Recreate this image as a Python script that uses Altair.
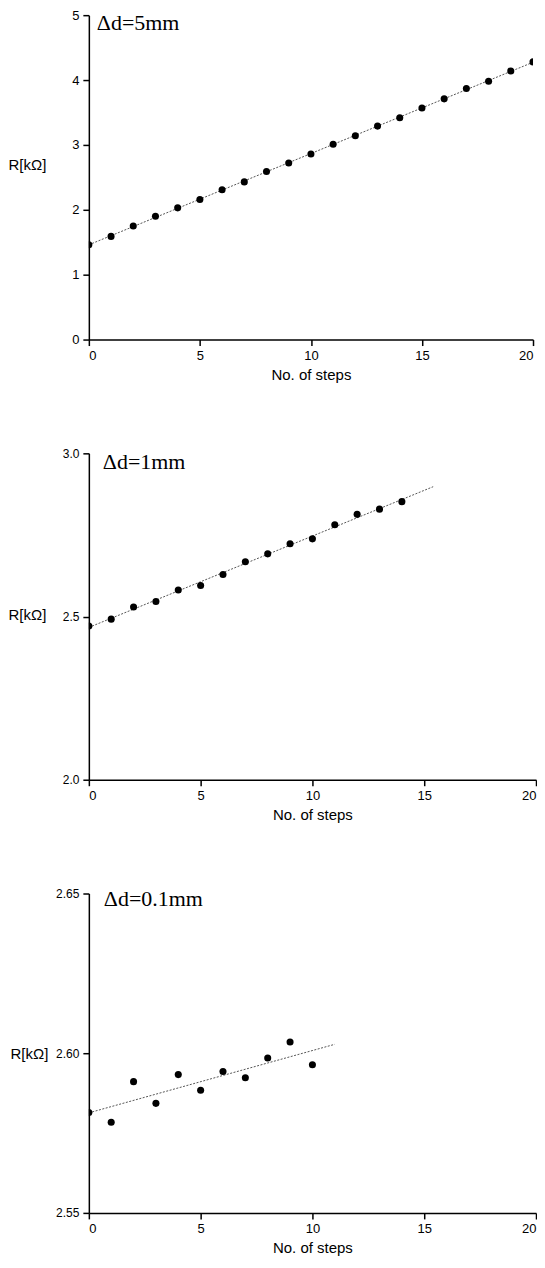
import altair as alt
import pandas as pd

# ---- data ----
steps_5mm = [0, 1, 2, 3, 4, 5, 6, 7, 8, 9, 10, 11, 12, 13, 14, 15, 16, 17, 18, 19, 20]
r_5mm = [1.46, 1.59, 1.75, 1.90, 2.03, 2.16, 2.31, 2.43, 2.59, 2.72, 2.86,
         3.01, 3.14, 3.29, 3.42, 3.57, 3.71, 3.87, 3.98, 4.14, 4.28]

steps_1mm = [0, 1, 2, 3, 4, 5, 6, 7, 8, 9, 10, 11, 12, 13, 14]
r_1mm = [2.471, 2.492, 2.529, 2.546, 2.581, 2.595, 2.629, 2.668, 2.692, 2.723,
         2.738, 2.781, 2.813, 2.829, 2.852]

steps_01mm = [0, 1, 2, 3, 4, 5, 6, 7, 8, 9, 10]
r_01mm = [2.5814, 2.5784, 2.5911, 2.5843, 2.5933, 2.5884, 2.5943, 2.5923,
          2.5985, 2.6035, 2.5964]

labels = ["Δd=5mm", "Δd=1mm", "Δd=0.1mm"]
y_domains = [[0, 5], [2.0, 3.0], [2.55, 2.65]]
y_ticks = [[0, 1, 2, 3, 4, 5], [2.0, 2.5, 3.0], [2.55, 2.60, 2.65]]
y_formats = ["d", ".1f", ".2f"]
fit_extents = [[0, 20], [0, 15.4], [0, 11.0]]
x_ticks = [0, 5, 10, 15, 20]
x_title = "No. of steps"
y_title = "R[kΩ]"


def panel(steps, values, label, dom, ticks, fmt, ext, width, height,
          title_x, title_y, text_x, text_y, ylab_size):
    df = pd.DataFrame({"step": steps, "R": values})
    x = alt.X("step:Q",
              scale=alt.Scale(domain=[0, 20], nice=False),
              axis=alt.Axis(values=x_ticks, format="d", title=x_title,
                            labelPadding=4, titlePadding=5, labelFontSize=13))
    y = alt.Y("R:Q",
              scale=alt.Scale(domain=dom, nice=False, zero=False),
              axis=alt.Axis(values=ticks, format=fmt, title=y_title,
                            titleAngle=0, titleAlign="left",
                            titleBaseline="middle", titleX=title_x,
                            titleY=title_y, labelFontSize=ylab_size,
                            labelPadding=4))
    base = alt.Chart(df)
    fit = base.transform_regression("step", "R", extent=ext).mark_line(
        color="#555555", strokeWidth=1, strokeDash=[2, 1.5], clip=True
    ).encode(x=x, y=y)
    pts = base.mark_circle(size=50, color="black", opacity=1, clip=True).encode(x=x, y=y)
    txt = alt.Chart(pd.DataFrame({"label": [label]})).mark_text(
        align="left", baseline="middle", font="Liberation Serif",
        fontSize=22, color="black"
    ).encode(x=alt.value(text_x), y=alt.value(text_y), text="label:N")
    return alt.layer(fit, pts, txt).properties(width=width, height=height)


p1 = panel(steps_5mm, r_5mm, labels[0], y_domains[0], y_ticks[0], y_formats[0],
           fit_extents[0], 445, 325, -81, 150, 8, 8, 13)
p2 = panel(steps_1mm, r_1mm, labels[1], y_domains[1], y_ticks[1], y_formats[1],
           fit_extents[1], 448, 327, -81, 161, 14, 9, 12)
p3 = panel(steps_01mm, r_01mm, labels[2], y_domains[2], y_ticks[2], y_formats[2],
           fit_extents[2], 448, 320, -79, 160, 15, 6, 12)

chart = alt.vconcat(p1, p2, p3, spacing=65).resolve_scale(
    x="independent", y="independent"
).properties(
    padding={"left": 0, "top": 0, "right": 0, "bottom": 0}
).configure_view(stroke=None).configure_axis(
    grid=False, domainColor="black", domainWidth=1.5, tickColor="black",
    tickWidth=1.5, tickSize=6, labelColor="black", labelFont="Liberation Sans",
    labelFontSize=12, titleFont="Liberation Sans", titleFontSize=15,
    titleFontWeight="normal", titleColor="black"
)

chart.save("out.html", embed_options={"renderer": "svg", "actions": False})
